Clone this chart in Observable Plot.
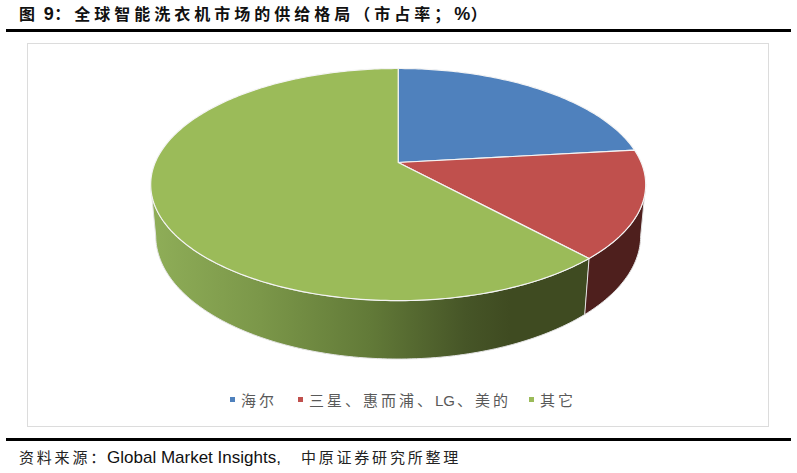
<!DOCTYPE html>
<html><head><meta charset="utf-8">
<script src="https://cdn.jsdelivr.net/npm/d3@7"></script>
<script src="https://cdn.jsdelivr.net/npm/@observablehq/plot@0.6"></script>
<style>
html,body{margin:0;padding:0;background:#fff;width:797px;height:473px;overflow:hidden}
#title{position:absolute;left:6px;top:0;height:29px;border-bottom:3px solid #000;
  font:600 16px "Noto Sans CJK SC";letter-spacing:4px;line-height:27px;color:#111;padding-left:13px;width:772px;white-space:nowrap}
#title b{font:700 18px "Liberation Sans";letter-spacing:0.5px}
#title em{font-style:normal;letter-spacing:0;margin-right:5px}
#title u{text-decoration:none;margin-left:4px}
#frame{position:absolute;left:27px;top:43px;width:740px;height:382px;border:1.5px solid #dcdcdc}
#chart{position:absolute;left:0;top:33px}
#legend{position:absolute;left:0;top:390px;width:797px;height:20px;font:15px "Noto Sans CJK SC";color:#595959;letter-spacing:3px;line-height:20px;white-space:nowrap}
#legend span{position:absolute;top:0}
#legend i{position:absolute;top:7px;width:5px;height:5px}
#legend b{font:400 15px "Liberation Sans Narrow","Liberation Sans";letter-spacing:0;padding-right:2px}
#source{position:absolute;left:6px;top:438px;width:785px;border-top:3px solid #000;padding-left:13px;box-sizing:border-box;
  font:15px "Noto Sans CJK SC";color:#222;letter-spacing:2.8px;line-height:31px;white-space:nowrap}
#source b{font:400 17px "Liberation Sans";letter-spacing:0;color:#111;margin-right:20px;margin-left:-1px}
</style></head><body>
<div id="title"><em>图 </em><b>9</b>：全球智能洗衣机市场的供给格局（市占率；<b>%</b>）</div>
<div id="frame"></div>
<div id="chart"></div>
<div id="legend"></div>
<div id="source">资料来源：<b>Global Market Insights,</b>中原证券研究所整理</div>
<script>
// Data
const categories = ["海尔", "三星、惠而浦、LG、美的", "其它"];
const shares = [23.2, 15, 61.8];
const topColors = ["#4f81bd", "#c0504d", "#9bbb59"];

// 3D pie projection (a tilted disc under perspective)
const cx = 397.7, cy = 162, k = -0.19, a = 81.1, c = 243, dm = 0.02, dn = 54.5;
function project(t, h) {
  const u = Math.sin(t), v = -Math.cos(t), w = 1 + k * v + dm * h;
  return {x: cx + c * u / w, y: (a * v + cy + dn * h) / w};
}
const total = d3.sum(shares);
const cum = [0, ...d3.cumsum(shares)].map(d => d / total * 2 * Math.PI);
const arc = (t0, t1, h) => {
  const n = Math.max(2, Math.ceil((t1 - t0) * 60));
  return d3.range(n + 1).map(i => project(t0 + (t1 - t0) * i / n, h));
};
const silhouette = Math.acos(k); // where the disc's rim turns away from the viewer

const topRows = categories.flatMap((name, i) =>
  [{x: cx, y: cy}, ...arc(cum[i], cum[i + 1], 0)].map(p => ({...p, name})));
const sideRows = (t0, t1) => [...arc(t0, t1, 0), ...arc(t0, t1, 1).reverse()];
const redSide = sideRows(silhouette, cum[2]);
const greenSide = sideRows(cum[2], 2 * Math.PI - silhouette);

const stops = [[0, "#8fae58"], [0.25, "#7b9749"], [0.5, "#627a38"], [0.72, "#465527"], [0.82, "#3f4b21"], [1, "#3f4b21"]];
const defs = () => {
  const s = d3.create("svg:defs");
  const g = s.append("linearGradient").attr("id", "greenSide");
  stops.forEach(([o, col]) => g.append("stop").attr("offset", o).attr("stop-color", col));
  return s.node();
};

const W = 797, H = 340;
const plot = Plot.plot({
  width: W, height: H, margin: 0,
  x: {domain: [0, W], range: [0, W], axis: null},
  y: {domain: [33, 33 + H], range: [0, H], axis: null},
  color: {domain: categories, range: topColors},
  style: {background: "transparent"},
  marks: [
    defs,
    Plot.line(greenSide, {x: "x", y: "y", curve: "linear-closed", fill: "url(#greenSide)", stroke: "#e4e4e4", strokeWidth: 1}),
    Plot.line(redSide, {x: "x", y: "y", curve: "linear-closed", fill: "#4e1f1d", stroke: "#e4e4e4", strokeWidth: 1}),
    Plot.line(topRows, {x: "x", y: "y", z: "name", curve: "linear-closed", fill: "name", stroke: "#f4f4f4", strokeWidth: 1.2})
  ]
});
document.getElementById("chart").append(plot);

// Legend
const lx = [[230, 241], [298, 309], [529, 540]];
const legend = d3.select("#legend");
categories.forEach((name, i) => {
  legend.append("i").style("left", lx[i][0] + "px").style("background", topColors[i]);
  legend.append("span").style("left", lx[i][1] + "px").html(name.replace(/[A-Z]+/, "<b>$&</b>"));
});
</script>
</body></html>
